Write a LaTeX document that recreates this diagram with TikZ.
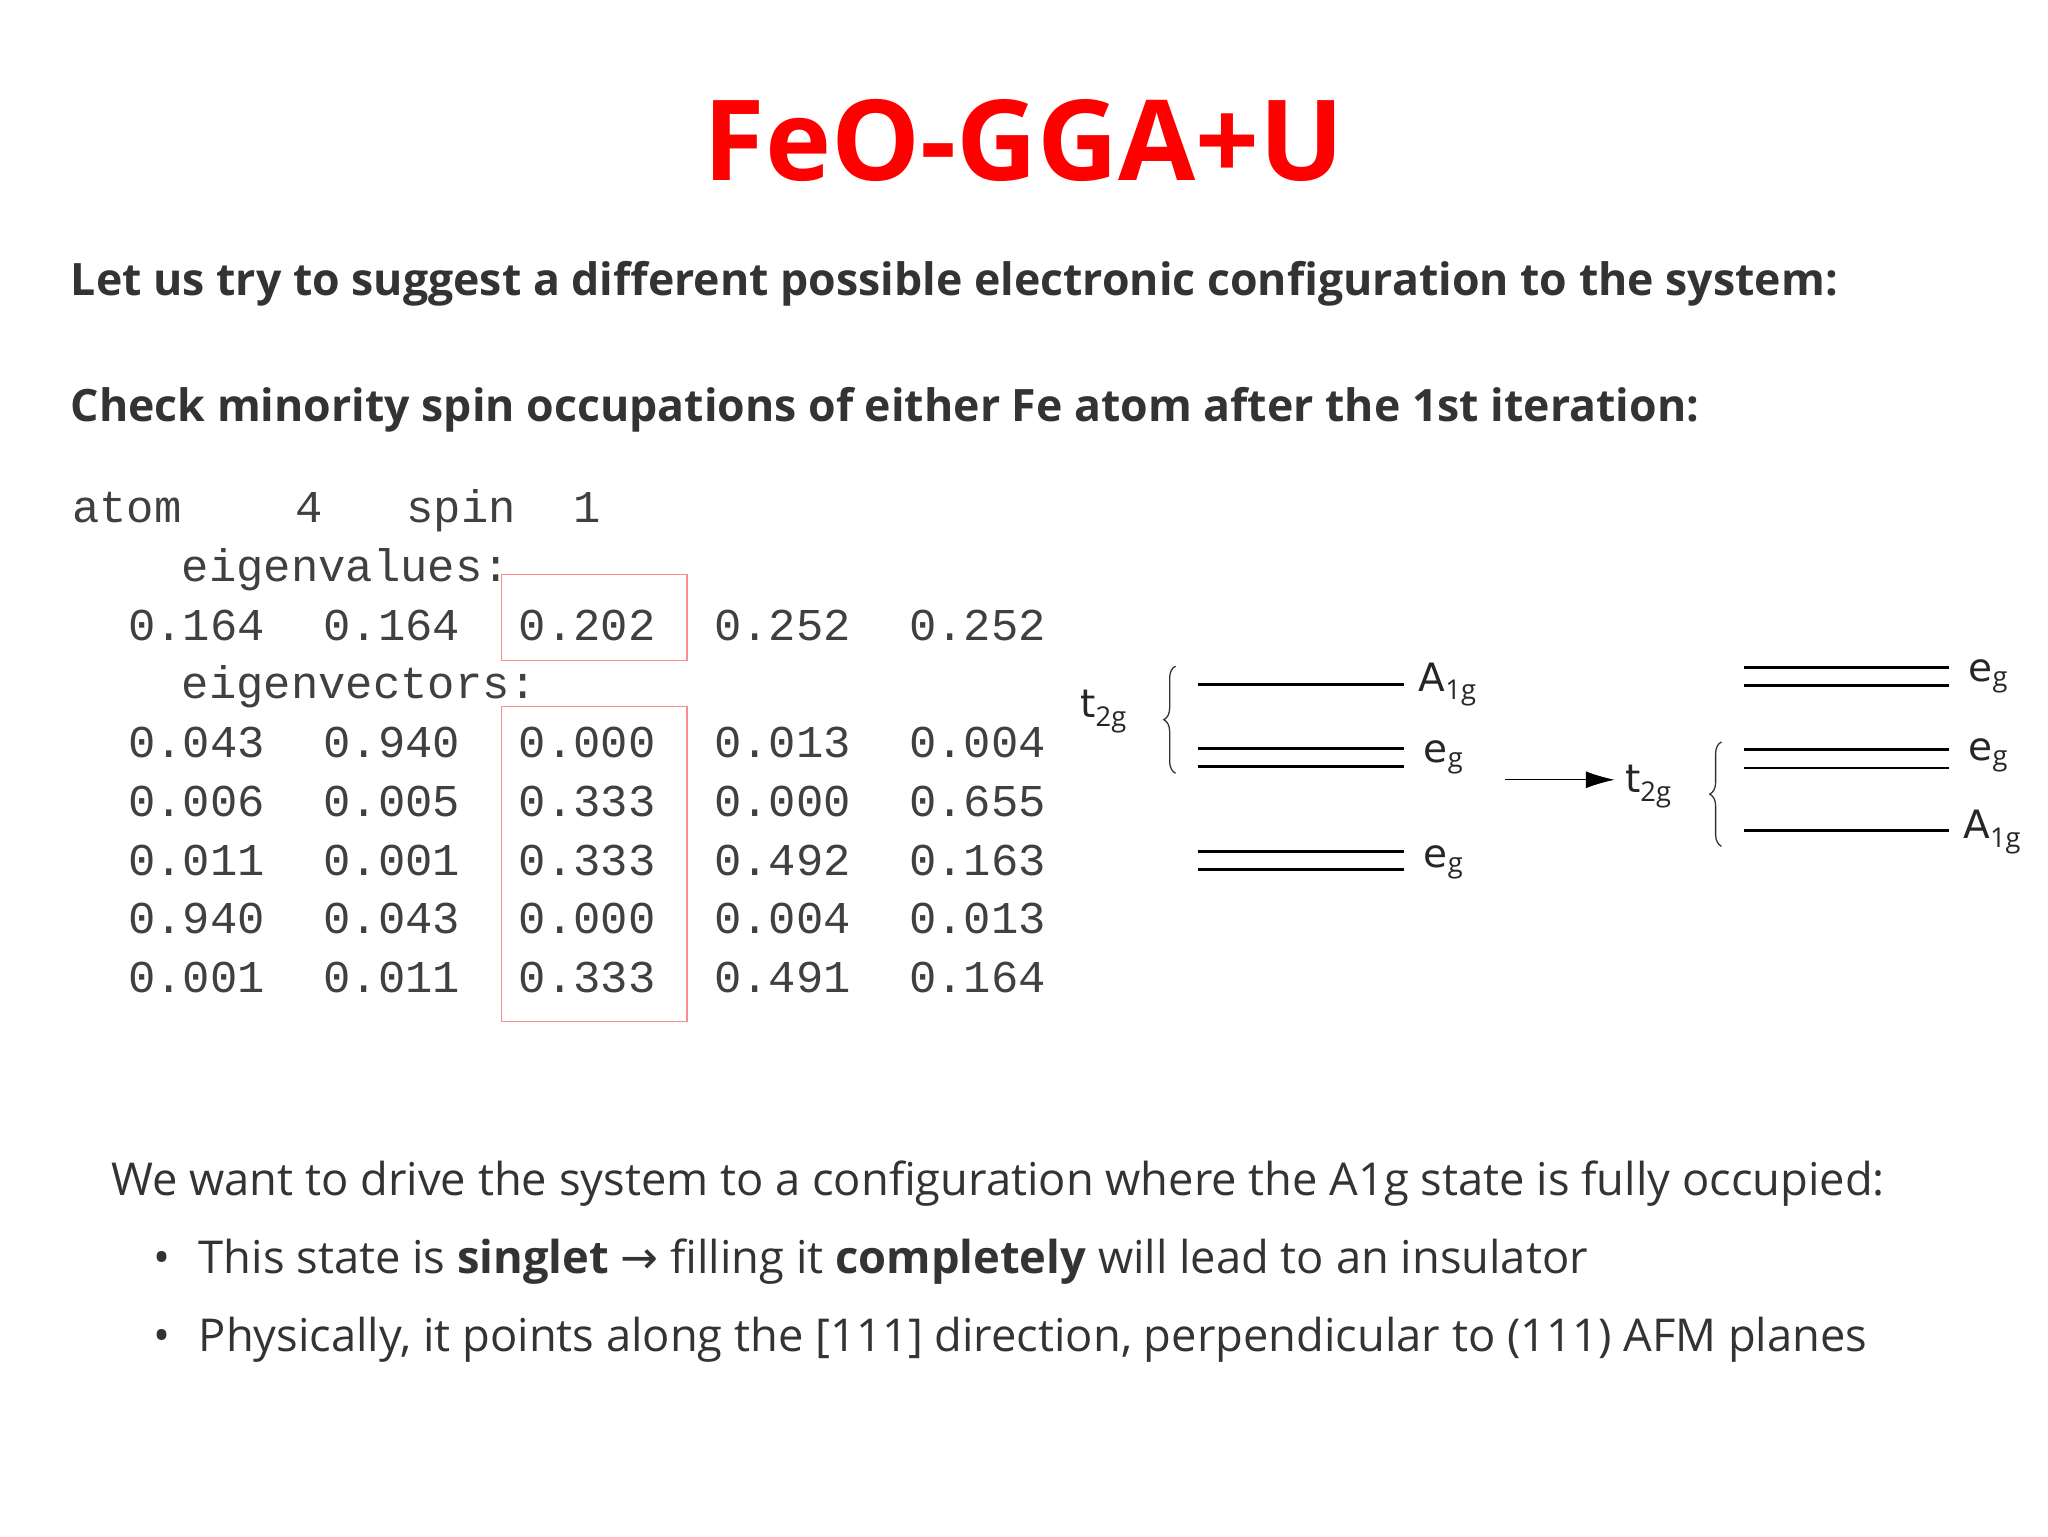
\documentclass[tikz,border=0pt]{standalone}
\usepackage{fontspec}
\setmainfont{Open Sans}
\setmonofont{Liberation Mono}
\newfontfamily\djv{DejaVu Sans}
\usetikzlibrary{decorations.pathreplacing,arrows.meta}
\begin{document}
\begin{tikzpicture}[x=1bp,y=-1bp,
  mono/.style={anchor=base west,inner sep=0,font=\fontsize{35}{35}\selectfont\ttfamily,text=black!75},
  head/.style={anchor=base west,inner sep=0,font=\fontsize{34.3}{34}\selectfont\bfseries,text=black!80},
  body/.style={anchor=base west,inner sep=0,font=\fontsize{34.8}{35}\selectfont,text=black!80},
  lvl/.style={line width=2.2pt},
  lab/.style={anchor=west,inner sep=0,font=\fontsize{30}{30}\djv\selectfont,text=black!85},
  brc/.style={decorate,decoration={brace,amplitude=9pt},line width=1pt,black!80},
  rbox/.style={draw=red!45,line width=0.9pt}]
\useasboundingbox (0,0) rectangle (1568,1176);
\node[inner sep=0,anchor=base,font=\fontsize{86}{86}\selectfont\bfseries,text=red] (title) at (784,138) {FeO-GGA+U};
\node[head] (h1) at (54,226) {Let us try to suggest a different possible electronic configuration to the system:};
\node[head] (h2) at (54,323) {Check minority spin occupations of either Fe atom after the 1st iteration:};
\node[mono] (a1) at (55,400) {atom};
\node[mono] (a2) at (226,400) {4};
\node[mono] (a3) at (311,400) {spin};
\node[mono] (a4) at (439,400) {1};
\node[mono] (ev) at (139,445) {eigenvalues:};
\node[mono] (ec) at (139,535) {eigenvectors:};
\foreach \v [count=\i] in {0.164,0.164,0.202,0.252,0.252}
  \node[mono] (e\i) at ({98+149.5*(\i-1)},490) {\v};
\foreach \r [count=\j] in {{0.043,0.940,0.000,0.013,0.004},{0.006,0.005,0.333,0.000,0.655},{0.011,0.001,0.333,0.492,0.163},{0.940,0.043,0.000,0.004,0.013},{0.001,0.011,0.333,0.491,0.164}}
  \foreach \v [count=\i] in \r
    \node[mono] (m\j\i) at ({98+149.5*(\i-1)},{580+45*(\j-1)}) {\v};
\draw[rbox] (384,440) rectangle (526,506);
\draw[rbox] (384,541) rectangle (526,782);
% left diagram
\node[lab] (lt) at (827,545) {t$_{\mathrm{2g}}$};
\draw[brc] (900,592) -- (900,510);
\draw[lvl] (917,524) -- (1075,524);
\draw[lvl] (917,573) -- (1075,573); \draw[lvl] (917,587) -- (1075,587);
\draw[lvl] (917,652) -- (1075,652); \draw[lvl] (917,666) -- (1075,666);
\node[lab] (la) at (1086,524) {A$_{\mathrm{1g}}$};
\node[lab] (le1) at (1090,580) {e$_{\mathrm{g}}$};
\node[lab] (le2) at (1090,660) {e$_{\mathrm{g}}$};
\coordinate (s) at (1152,597); \coordinate (t) at (1236,597);
\draw[line width=0.5pt,-{Latex[length=22pt,width=13pt]}] (s) -- (t);
% right diagram
\node[lab] (rt) at (1244,602) {t$_{\mathrm{2g}}$};
\draw[brc] (1318,648) -- (1318,568);
\draw[lvl] (1335,511) -- (1492,511); \draw[lvl] (1335,525) -- (1492,525);
\draw[lvl] (1335,574) -- (1492,574); \draw[lvl] (1335,588) -- (1492,588);
\draw[lvl] (1335,636) -- (1492,636);
\node[lab] (re1) at (1507,518) {e$_{\mathrm{g}}$};
\node[lab] (re2) at (1507,578) {e$_{\mathrm{g}}$};
\node[lab] (ra) at (1503,637) {A$_{\mathrm{1g}}$};
% bottom text
\node[body] (b0) at (85,915) {We want to drive the system to a configuration where the A1g state is fully occupied:};
\node[body] (bu1) at (117,975) {•};
\node[body] (b1) at (152,975) {This state is \textbf{singlet} {\djv →} filling it \textbf{completely} will lead to an insulator};
\node[body] (bu2) at (117,1035) {•};
\node[body] (b2) at (152,1035) {Physically, it points along the [111] direction, perpendicular to (111) AFM planes};
\end{tikzpicture}
\end{document}
